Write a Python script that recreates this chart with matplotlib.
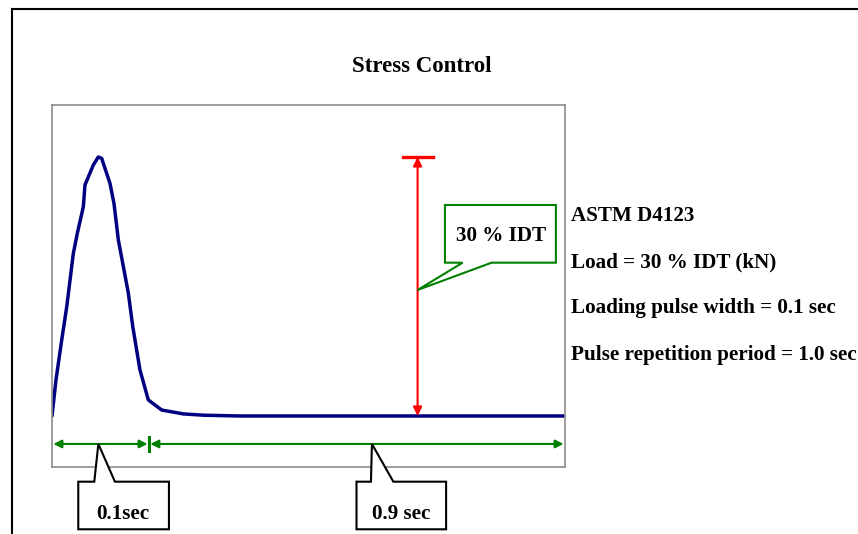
import matplotlib
matplotlib.use("Agg")
import matplotlib.pyplot as plt
from matplotlib.patches import Polygon
from matplotlib.lines import Line2D

plt.rcParams['font.family'] = ['Liberation Serif', 'DejaVu Serif']
plt.rcParams['font.weight'] = 'bold'

# one loading pulse (time in sec, load relative to 30 % IDT)
pulse_time = [0.0, 0.0041, 0.0100, 0.0152, 0.0220, 0.0261, 0.0323, 0.0340, 0.0426,
              0.0477, 0.0512, 0.0598, 0.0639, 0.0684, 0.0787, 0.0832, 0.0907, 0.0993,
              0.1131, 0.1354, 0.1560, 0.1938, 0.529]
pulse_load = [0.0, 0.139, 0.293, 0.422, 0.628, 0.705, 0.808, 0.892, 0.969,
              1.0, 0.995, 0.898, 0.821, 0.680, 0.475, 0.347, 0.178, 0.062,
              0.023, 0.008, 0.003, 0.0, 0.0]

idt_time = 0.377
idt_level = 1.0
idt_label = "30 % IDT"

period_marks = [0.0, 0.1, 0.529]
period_labels = ["0.1sec", "0.9 sec"]

title = "Stress Control"
info_lines = ["ASTM D4123",
              "Load = 30 % IDT (kN)",
              "Loading pulse width = 0.1 sec",
              "Pulse repetition period = 1.0 sec"]

W, H = 858, 534
fig = plt.figure(figsize=(W / 100, H / 100), dpi=100)
ax = fig.add_axes([52 / W, 1 - 467 / H, 513 / W, 362 / H])
ax.set_xlim(0, 0.529)
ax.set_ylim(-0.197, 1.2008)
ax.set_xticks([])
ax.set_yticks([])
for s in ax.spines.values():
    s.set_color('#8c8c8c')
    s.set_linewidth(1.2)

# pulse
ax.plot(pulse_time, pulse_load, color='#000080', lw=2.5, solid_capstyle='round',
        solid_joinstyle='round')

# red 30 % IDT arrow with cap
ax.annotate('', xy=(idt_time, 0), xytext=(idt_time, idt_level),
            arrowprops=dict(arrowstyle='<|-|>', color='red', lw=1.5,
                            mutation_scale=13, shrinkA=0, shrinkB=0))
ax.plot([idt_time - 0.0155, idt_time + 0.0155], [idt_level, idt_level], color='red', lw=2.4)

# callout for the IDT arrow
L, R, T, B = 0.4052, 0.5196, 0.8147, 0.5919
tip = (idt_time, 0.4865)
ax.add_patch(Polygon([(L, T), (R, T), (R, B), (0.4533, B), tip, (0.4234, B), (L, B)],
                     closed=True, facecolor='white', edgecolor='#008000', lw=1.5,
                     clip_on=False, zorder=4))
ax.text(0.4629, 0.6757, idt_label, ha='center', va='baseline', fontsize=15.2, zorder=5)

# dimension arrows for the loading pulse and rest period
dim_y = -0.108
for a, b in zip(period_marks[:-1], period_marks[1:]):
    ax.annotate('', xy=(b, dim_y), xytext=(a, dim_y), annotation_clip=False,
                arrowprops=dict(arrowstyle='<|-|>', color='#008000', lw=1.5,
                                mutation_scale=12, shrinkA=1, shrinkB=1))
ax.plot([period_marks[1], period_marks[1]], [dim_y - 0.026, dim_y + 0.026],
        color='#008000', lw=2.2)

# black callouts below the arrows
boxes = [(0.0271, 0.1206, 0.0436, 0.0649, 0.0478, 0.0732),
         (0.3140, 0.4064, 0.3289, 0.3520, 0.3299, 0.3603)]
T, B = -0.2537, -0.4375
for (L, R, p1, p2, tx, cx), label in zip(boxes, period_labels):
    ax.add_patch(Polygon([(L, T), (p1, T), (tx, dim_y), (p2, T), (R, T), (R, B), (L, B)],
                         closed=True, facecolor='white', edgecolor='black', lw=1.5,
                         clip_on=False, zorder=4))
    ax.text(cx, -0.3977, label, ha='center', va='baseline', fontsize=15.2, zorder=5)

# title and notes
fig.text(421.5 / W, 1 - 71.7 / H, title, ha='center', va='baseline', fontsize=16.5)
for i, line in enumerate(info_lines):
    fig.text(571 / W, 1 - (220.5 + 46.5 * i) / H, line, ha='left', va='baseline',
             fontsize=15.2)

# outer frame (runs off the right and bottom edges)
fig.add_artist(Line2D([11.5 / W, 11.5 / W], [0, 1 - 8.5 / H], color='black', lw=1.5))
fig.add_artist(Line2D([11.5 / W, 1], [1 - 8.5 / H, 1 - 8.5 / H], color='black', lw=1.5))

fig.savefig('out.png', dpi=100, facecolor='white')
